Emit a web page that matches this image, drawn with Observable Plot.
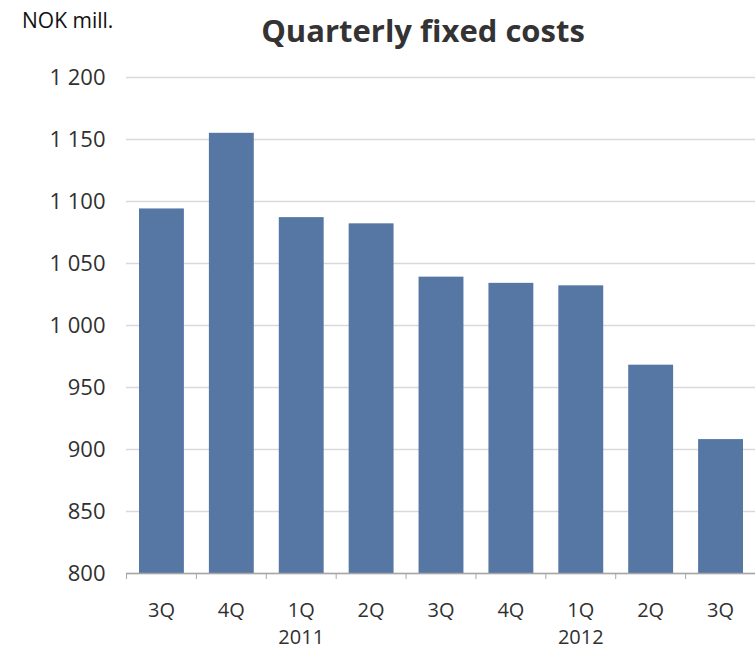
<!DOCTYPE html>
<html>
<head>
<meta charset="utf-8">
<script src="https://cdn.jsdelivr.net/npm/d3@7"></script>
<script src="https://cdn.jsdelivr.net/npm/@observablehq/plot@0.6"></script>
<style>
  html, body { margin: 0; padding: 0; background: #fff; }
  #wrap { position: relative; width: 755px; height: 650px; font-family: "Open Sans", sans-serif; }
  #unit { position: absolute; left: 22px; top: 6px; font-size: 21px; color: #111; }
  #title { position: absolute; left: 0; width: 846px; top: 9px; text-align: center; font-size: 31px; font-weight: bold; color: #333; }
</style>
</head>
<body>
<div id="wrap">
  <div id="unit">NOK mill.</div>
  <div id="title">Quarterly fixed costs</div>
</div>
<script>
const quarters = ["3Q","4Q","1Q","2Q","3Q","4Q","1Q","2Q","3Q"];
const years = [2010, 2010, 2011, 2011, 2011, 2011, 2012, 2012, 2012];
const costs = [1094, 1155, 1087, 1082, 1039, 1034, 1032, 968, 908];
const yTicks = [800, 850, 900, 950, 1000, 1050, 1100, 1150, 1200];

const data = quarters.map((q, i) => ({
  key: `${q} ${years[i]}`,
  quarter: q,
  year: years[i],
  yearLabel: q === "1Q" ? String(years[i]) : "",
  value: costs[i]
}));
const keys = data.map(d => d.key);
const yearData = data.filter(d => d.yearLabel !== "");
const fmt = v => d3.format(",")(v).replace(/,/g, " ");

// tick marks at category boundaries, derived from the band scale
function boundaryTicks(index, scales) {
  const x = scales.x, y = scales.y;
  const g = d3.create("svg:g").attr("stroke", "#a6a6a6").attr("stroke-width", 1);
  const y0 = y(800);
  for (const k of keys) {
    const b = x(k);
    if (!Number.isFinite(b)) continue;
    g.append("line").attr("x1", b + 0.5).attr("x2", b + 0.5).attr("y1", y0).attr("y2", y0 + 6);
  }
  return g.node();
}

const chart = Plot.plot({
  width: 755,
  height: 650,
  marginTop: 77,
  marginBottom: 77,
  marginLeft: 126,
  marginRight: 0,
  style: { fontFamily: "Open Sans, sans-serif", background: "#fff", overflow: "visible" },
  x: { domain: keys, padding: 0, round: false, axis: null },
  y: { domain: [800, 1200], axis: null },
  marks: [
    Plot.gridY(yTicks, { stroke: "#d9d9d9", strokeOpacity: 1, strokeWidth: 1.3 }),
    Plot.barY(data, { x: "key", y1: 800, y2: "value", fill: "#5677a4", insetLeft: 13, insetRight: 12 }),
    Plot.ruleY([800], { stroke: "#a6a6a6", strokeWidth: 1.3 }),
    boundaryTicks,
    Plot.axisY(yTicks, { tickSize: 0, tickPadding: 21, tickFormat: fmt, fontSize: 22, fill: "#303030", label: null }),
    Plot.text(data, { x: "key", text: "quarter", frameAnchor: "bottom", dy: 37, fontSize: 20, fill: "#303030", lineAnchor: "middle" }),
    Plot.text(yearData, { x: "key", text: "yearLabel", frameAnchor: "bottom", dy: 64.5, fontSize: 20, fill: "#303030", lineAnchor: "middle" })
  ]
});
document.getElementById("wrap").prepend(chart);
chart.style.position = "absolute";
chart.style.left = "0";
chart.style.top = "0";
</script>
</body>
</html>
